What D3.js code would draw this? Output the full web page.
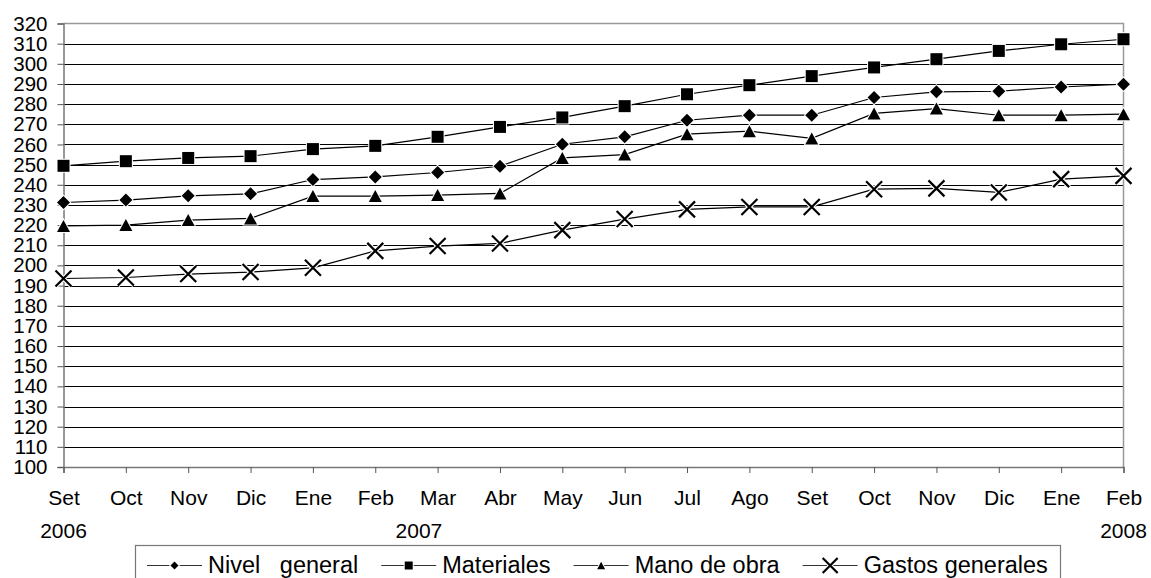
<!DOCTYPE html>
<html lang="es">
<head>
  <title>Índices de costo</title>
  <meta charset="utf-8">
  <style>
    body { margin: 0; background: #fff; }
    text { font-family: "Liberation Sans", Arial, sans-serif; fill: #000; }
    .grid line { stroke: #000; stroke-width: 1; }
    .serie { fill: none; stroke: #000; stroke-width: 1.2; }
  </style>
  <script src="https://d3js.org/d3.v7.min.js"></script>
</head>
<body>
<svg width="1151" height="578"></svg>
<script>
  // datos
  var meses = ["Set","Oct","Nov","Dic","Ene","Feb","Mar","Abr","May","Jun","Jul","Ago","Set","Oct","Nov","Dic","Ene","Feb"];
  var anios = [{i: 0, d: 0, label: "2006"}, {i: 6, d: -0.3, label: "2007"}, {i: 17, d: 0, label: "2008"}];
  var yTicks = d3.range(100, 321, 10);

  var nivelGeneral = [231.2,232.4,234.5,235.5,242.6,243.9,246.1,249.2,260.1,263.8,272.0,274.5,274.5,283.3,286.1,286.4,288.5,289.9];
  var materiales   = [249.4,251.7,253.3,254.2,257.7,259.3,263.8,268.7,273.4,279.0,284.9,289.4,293.9,298.2,302.3,306.4,309.7,312.2];
  var manoDeObra   = [219.6,220.0,222.5,223.3,234.4,234.4,234.9,235.7,253.3,255.0,265.1,266.6,263.0,275.4,277.8,274.5,274.5,275.0];
  var gastosGen    = [193.5,194.0,195.7,196.7,198.8,207.2,209.6,210.9,217.5,223.0,227.8,229.0,229.0,237.8,238.2,236.2,242.8,244.4];

  var series = [
    {name: "Nivel   general", values: nivelGeneral, marker: "diamond"},
    {name: "Materiales", values: materiales, marker: "square"},
    {name: "Mano de obra", values: manoDeObra, marker: "triangle"},
    {name: "Gastos generales", values: gastosGen, marker: "cross"}
  ];

  var svg = d3.select("svg"),
      mLeft = 63.5, mRight = 1123.5, mTop = 23.5, mBottom = 467;

  var x = d3.scalePoint().domain(d3.range(meses.length)).range([mLeft, mRight]);
  var y = d3.scaleLinear().domain([100, 320]).range([mBottom, mTop]);

  // lineas de division
  svg.append("g").attr("class", "grid")
    .selectAll("line")
    .data(yTicks.filter(function(v) { return v > 100 && v < 320; }))
    .enter().append("line")
    .attr("x1", mLeft).attr("x2", mRight)
    .attr("y1", function(v) { return Math.round(y(v)) + 0.5; })
    .attr("y2", function(v) { return Math.round(y(v)) + 0.5; });

  // borde superior y derecho
  svg.append("path")
    .attr("d", "M" + mLeft + "," + mTop + "H" + mRight + "V" + mBottom)
    .attr("fill", "none").attr("stroke", "#999").attr("stroke-width", 1.5);

  var yAxis = svg.append("g")
    .attr("transform", "translate(" + mLeft + ",0)")
    .call(d3.axisLeft(y).tickValues(yTicks).tickSize(6).tickPadding(10).tickFormat(d3.format("d")));
  yAxis.selectAll("text").style("font-size", "20.5px");

  var xAxis = svg.append("g")
    .attr("transform", "translate(0," + mBottom + ")")
    .call(d3.axisBottom(x).tickSize(6).tickPadding(17).tickFormat(function(i) { return meses[i]; }));
  xAxis.selectAll("text").style("font-size", "21px");

  [yAxis, xAxis].forEach(function(a) {
    a.select(".domain").attr("stroke", "#777").attr("stroke-width", 1.5);
    a.selectAll(".tick line").attr("stroke", "#555");
  });

  var step = x.step();
  svg.selectAll(".anio")
    .data(anios)
    .enter().append("text")
    .attr("class", "anio")
    .attr("x", function(d) { return x(d.i) + d.d * step; })
    .attr("y", 538)
    .attr("text-anchor", "middle")
    .style("font-size", "21px")
    .text(function(d) { return d.label; });

  function marcador(sel, tipo, s) {
    var h = s / 2, d;
    if (tipo === "cross") {
      d = "M" + (-h) + "," + (-h) + "L" + h + "," + h + "M" + (-h) + "," + h + "L" + h + "," + (-h);
      sel.append("path").attr("d", d).attr("stroke", "#fff").attr("stroke-width", 4.5);
      sel.append("path").attr("d", d).attr("stroke", "#000").attr("stroke-width", 2.2);
      return;
    }
    if (tipo === "square") d = "M" + (-h) + "," + (-h) + "H" + h + "V" + h + "H" + (-h) + "Z";
    else if (tipo === "diamond") d = "M0," + (-h) + "L" + h + ",0L0," + h + "L" + (-h) + ",0Z";
    else d = "M0," + (-h * 0.92) + "L" + h + "," + (h * 0.92) + "H" + (-h) + "Z";
    sel.append("path").attr("d", d)
      .attr("fill", "#000").attr("stroke", "#fff").attr("stroke-width", 2)
      .style("paint-order", "stroke");
  }

  var linea = d3.line()
    .x(function(v, i) { return x(i); })
    .y(function(v) { return y(v); });

  var tam = {diamond: 13, square: 12, triangle: 13, cross: 16};

  series.forEach(function(s) {
    svg.append("path").attr("class", "serie").attr("d", linea(s.values));
  });
  series.forEach(function(s) {
    svg.append("g").selectAll("g")
      .data(s.values)
      .enter().append("g")
      .attr("transform", function(v, i) { return "translate(" + x(i) + "," + y(v) + ")"; })
      .each(function() { marcador(d3.select(this), s.marker, tam[s.marker]); });
  });

  // leyenda
  var ley = svg.append("g");
  ley.append("rect")
    .attr("x", 135.5).attr("y", 545.5).attr("width", 925).attr("height", 60)
    .attr("fill", "#fff").attr("stroke", "#777").attr("stroke-width", 1.2);

  var tamLey = {diamond: 8, square: 8, triangle: 8, cross: 15};
  var lx = 147;
  series.forEach(function(s) {
    var g = ley.append("g");
    g.append("line").attr("x1", lx).attr("x2", lx + 55).attr("y1", 565.5).attr("y2", 565.5)
      .attr("stroke", "#333").attr("stroke-width", 1);
    var m = g.append("g").attr("transform", "translate(" + (lx + 27.5) + ",565.5)");
    marcador(m, s.marker, tamLey[s.marker]);
    var t = g.append("text").attr("x", lx + 61).attr("y", 573)
      .style("font-size", "23.5px").style("white-space", "pre")
      .text(s.name);
    lx += 61 + t.node().getComputedTextLength() + 23;
  });
</script>
</body>
</html>
